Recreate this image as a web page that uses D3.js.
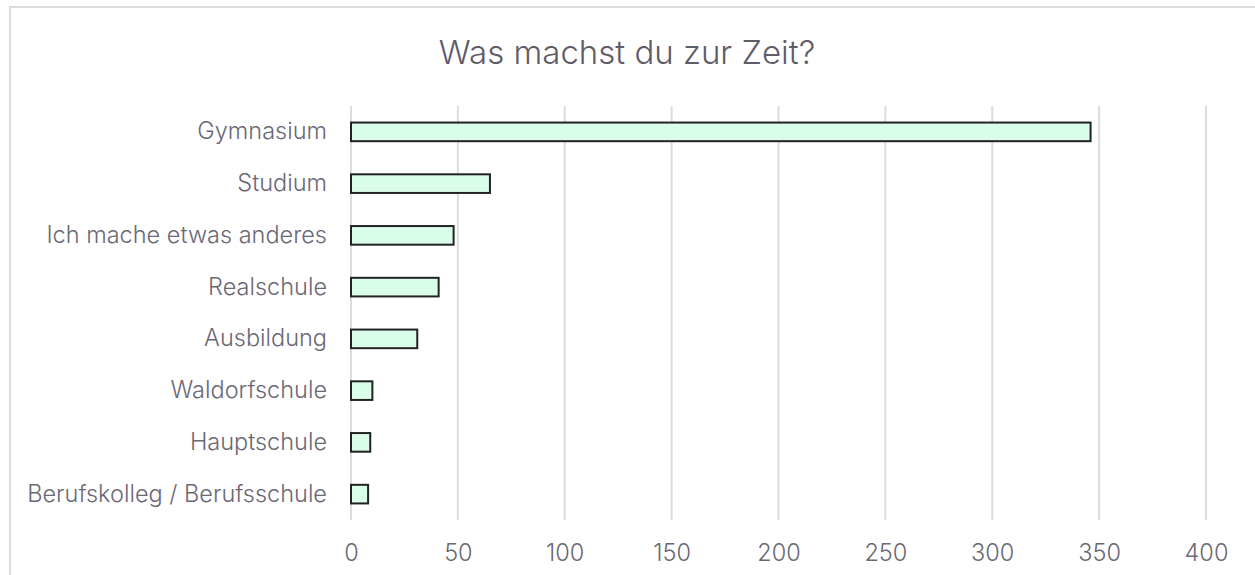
<!DOCTYPE html>
<html>
<head>
<meta charset="utf-8">
<script src="https://cdn.jsdelivr.net/npm/d3@7"></script>
<style>
  body { margin: 0; background: #fff; }
  text { font-family: Inter, "Noto Sans", sans-serif; font-weight: 300; }
</style>
</head>
<body>
<div id="chart"></div>
<script>
// data
var categories = ["Gymnasium", "Studium", "Ich mache etwas anderes", "Realschule",
    "Ausbildung", "Waldorfschule", "Hauptschule", "Berufskolleg / Berufsschule"];
var counts = [346, 65, 48, 41, 31, 10, 9, 8];
var xTicks = [0, 50, 100, 150, 200, 250, 300, 350, 400];
var title = "Was machst du zur Zeit?";

var W = 1255, H = 575;
var margin = { top: 106, right: 49, bottom: 55, left: 351 },
    w = W - margin.left - margin.right,
    h = H - margin.top - margin.bottom;

var svg = d3.select('#chart')
    .append('svg')
    .attr('width', W)
    .attr('height', H);

// outer frame (runs off the right and bottom edge)
svg.append('rect')
    .attr('x', 10).attr('y', 7)
    .attr('width', W + 20).attr('height', H + 20)
    .attr('fill', '#fff')
    .attr('stroke', '#dcdce0')
    .attr('stroke-width', 2);

svg.append('text')
    .attr('x', 627)
    .attr('y', 64)
    .attr('text-anchor', 'middle')
    .attr('fill', '#5f5c68')
    .style('font-size', '33px')
    .text(title);

var g = svg.append('g')
    .attr("transform", `translate(${margin.left},${margin.top})`);

var xScale = d3.scaleLinear()
    .domain([0, 400])
    .range([0, w]);

var yScale = d3.scaleBand()
    .domain(categories)
    .range([0, h])
    .paddingInner(0.64)
    .paddingOuter(0.32);

// gridlines
g.selectAll('.grid')
    .data(xTicks)
    .enter()
    .append('line')
    .attr('class', 'grid')
    .attr('x1', function (d) { return xScale(d); })
    .attr('x2', function (d) { return xScale(d); })
    .attr('y1', 0)
    .attr('y2', h)
    .attr('stroke', '#dcdce0')
    .attr('stroke-width', 2);

// x axis labels
var xAxis = d3.axisBottom(xScale).tickValues(xTicks).tickSize(0).tickPadding(24);
g.append('g')
    .attr('class', 'x axis')
    .attr("transform", `translate(0,${h})`)
    .call(xAxis)
    .call(function (a) { a.select('.domain').remove(); })
    .selectAll('text')
    .attr('fill', '#6b6875')
    .style('font-size', '23.5px');

// y axis labels
var yAxis = d3.axisLeft(yScale).tickSize(0).tickPadding(24);
g.append('g')
    .attr('class', 'y axis')
    .call(yAxis)
    .call(function (a) { a.select('.domain').remove(); })
    .selectAll('text')
    .attr('fill', '#6b6875')
    .style('font-size', '23.5px');

// bars
g.selectAll('.bar')
    .data(counts)
    .enter()
    .append('rect')
    .attr('class', 'bar')
    .attr('x', 0)
    .attr('y', function (d, i) { return yScale(categories[i]); })
    .attr('width', function (d) { return xScale(d); })
    .attr('height', yScale.bandwidth())
    .attr('fill', '#dafde9')
    .attr('stroke', '#222')
    .attr('stroke-width', 2);
</script>
</body>
</html>
